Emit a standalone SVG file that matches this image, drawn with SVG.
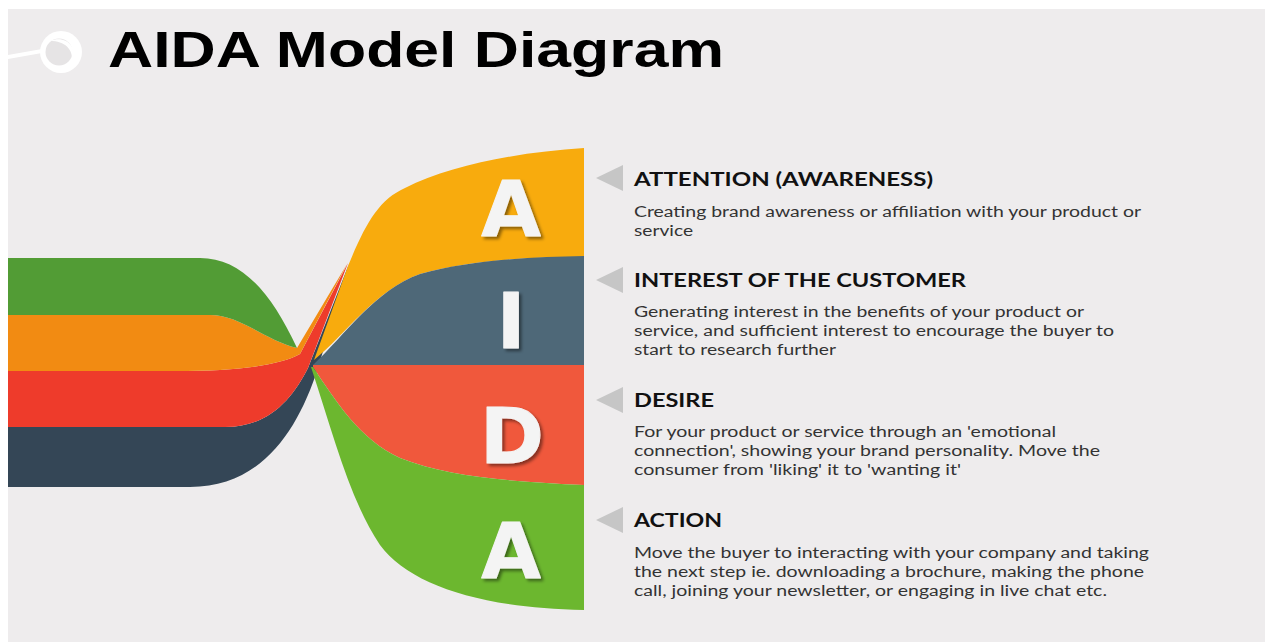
<svg xmlns="http://www.w3.org/2000/svg" width="1270" height="642" viewBox="0 0 1270 642">
  <defs>
    <style>
      .title { font-family: "Liberation Sans", Arial, sans-serif; font-weight: bold; font-size: 50px; fill: #000; }
      .letter { font-family: "DejaVu Sans", "Liberation Sans", sans-serif; font-weight: bold; font-size: 77px; fill: #f4f4f4; stroke: #f4f4f4; stroke-width: 1; stroke-linejoin: round; text-anchor: middle; }
      .head { font-family: Lato, "Open Sans", sans-serif; font-weight: bold; font-size: 19px; fill: #111; }
      .body { font-family: Lato, "Open Sans", sans-serif; font-size: 15.5px; fill: #333; }
      .pointer { fill: #c6c6c6; }
    </style>
    <filter id="shadow" x="-20%" y="-20%" width="150%" height="150%">
      <feDropShadow dx="2.5" dy="2.5" stdDeviation="1.5" flood-color="#000" flood-opacity="0.45"/>
    </filter>
  </defs>

  <!-- page -->
  <rect x="0" y="0" width="1270" height="642" fill="#ffffff"/>
  <rect x="8" y="9" width="1257" height="633" fill="#eeeced"/>

  <!-- title with pin -->
  <g id="title">
    <polygon points="8,55 8,59 42,53 42,49" fill="#ffffff"/>
    <circle cx="61" cy="52" r="21" fill="#ffffff"/>
    <circle cx="59" cy="52" r="13.5" fill="#e6e4e5"/>
    <path d="M50,41 C65,35 78,46 72,61 C73,49 65,41 50,41 Z" fill="#ffffff"/>
    <text class="title" x="108" y="67" textLength="616" lengthAdjust="spacingAndGlyphs">AIDA Model Diagram</text>
  </g>

  <!-- incoming ribbons converging to a point -->
  <g id="ribbons-in">
    <path d="M8,427 H225 C268,427 292,400 308,368 L349,264 L318,368 C298,430 262,487 190,487 H8 Z" fill="#344656"/>
    <path d="M8,371 H175 C240,371 280,365 300,354 L348,263 L308,368 C292,400 268,427 225,427 H8 Z" fill="#ee3b2b"/>
    <path d="M8,315 H210 C240,315 265,340 297,348 L347,264 L300,354 C280,365 240,371 175,371 H8 Z" fill="#f28b12"/>
    <path d="M8,258 H200 C240,258 270,290 297,348 L346,266 L297,348 C265,340 240,315 210,315 H8 Z" fill="#529c35"/>
  </g>

  <!-- A : attention -->
  <g id="node-attention">
    <path d="M314,360 L348,266 C365,225 378,200 405,188 C450,165 520,152 584,148 V257 C530,257 470,260 420,274 C375,290 345,335 314,360 Z" fill="#f8ab0d"/>
    <text class="letter" x="511" y="236" filter="url(#shadow)">A</text>
    <polygon class="pointer" points="596,178 623,165 623,191"/>
    <text class="head" x="634" y="186" textLength="299" lengthAdjust="spacingAndGlyphs">ATTENTION  (AWARENESS)</text>
    <text class="body" x="634" y="217" textLength="507" lengthAdjust="spacingAndGlyphs">Creating brand awareness or affiliation with your product  or</text>
    <text class="body" x="634" y="236" textLength="59" lengthAdjust="spacingAndGlyphs">service</text>
  </g>

  <!-- I : interest -->
  <g id="node-interest">
    <path d="M313,365 C345,335 375,290 420,274 C470,260 530,257 584,256 V365 Z" fill="#4e6878"/>
    <text class="letter" x="511" y="348" filter="url(#shadow)">I</text>
    <polygon class="pointer" points="596,280 623,267 623,293"/>
    <text class="head" x="634" y="287" textLength="332" lengthAdjust="spacingAndGlyphs">INTEREST OF THE CUSTOMER</text>
    <text class="body" x="634" y="317" textLength="450" lengthAdjust="spacingAndGlyphs">Generating interest in the benefits of your product  or</text>
    <text class="body" x="634" y="336" textLength="480" lengthAdjust="spacingAndGlyphs">service, and sufficient interest to  encourage the  buyer to</text>
    <text class="body" x="634" y="355" textLength="202" lengthAdjust="spacingAndGlyphs">start to  research further</text>
  </g>

  <!-- D : desire -->
  <g id="node-desire">
    <path d="M313,365 H584 V485 C520,482 450,478 400,458 C360,440 335,400 313,367 Z" fill="#f0583c"/>
    <text class="letter" x="512" y="463" filter="url(#shadow)">D</text>
    <polygon class="pointer" points="596,400 623,387 623,413"/>
    <text class="head" x="634" y="407" textLength="80" lengthAdjust="spacingAndGlyphs">DESIRE</text>
    <text class="body" x="634" y="437" textLength="422" lengthAdjust="spacingAndGlyphs">For your  product  or  service through  an 'emotional</text>
    <text class="body" x="634" y="456" textLength="466" lengthAdjust="spacingAndGlyphs">connection', showing your brand personality. Move the</text>
    <text class="body" x="634" y="475" textLength="327" lengthAdjust="spacingAndGlyphs">consumer from 'liking' it to 'wanting it'</text>
  </g>

  <!-- A : action -->
  <g id="node-action">
    <path d="M311,367 C335,440 350,500 380,545 C410,585 480,608 584,610 V485 C520,482 450,478 400,458 C360,440 335,400 313,367 Z" fill="#6cb72f"/>
    <text class="letter" x="511" y="578" filter="url(#shadow)">A</text>
    <polygon class="pointer" points="596,520 623,507 623,533"/>
    <text class="head" x="634" y="527" textLength="88" lengthAdjust="spacingAndGlyphs">ACTION</text>
    <text class="body" x="634" y="558" textLength="515" lengthAdjust="spacingAndGlyphs">Move the  buyer to  interacting with  your company and taking</text>
    <text class="body" x="634" y="577" textLength="510" lengthAdjust="spacingAndGlyphs">the next step ie. downloading  a brochure,  making the phone</text>
    <text class="body" x="634" y="596" textLength="473" lengthAdjust="spacingAndGlyphs">call, joining your newsletter, or engaging in live chat etc.</text>
  </g>
</svg>
